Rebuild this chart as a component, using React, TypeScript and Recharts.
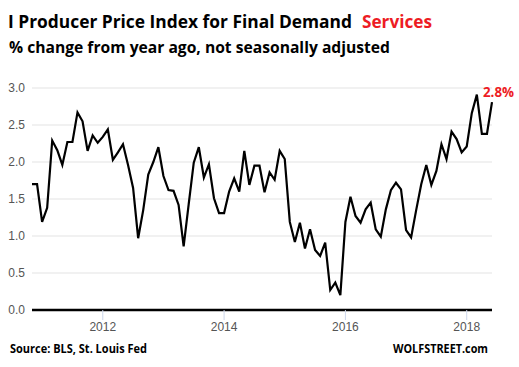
import { LineChart, Line, XAxis, YAxis, CartesianGrid, ReferenceLine } from 'recharts'

// monthly series, Nov 2010 .. Jun 2018
const startYear = 2010
const startMonth = 10 // 0-based, November
const ppiServices = [
  1.70, 1.70, 1.19, 1.38, 2.29, 2.16, 1.96, 2.27, 2.27, 2.67, 2.55, 2.15,
  2.36, 2.26, 2.34, 2.44, 2.03, 2.13, 2.24, 1.96, 1.65, 0.97, 1.35, 1.83,
  2.00, 2.20, 1.81, 1.62, 1.61, 1.42, 0.86, 1.43, 1.99, 2.20, 1.79, 1.97,
  1.51, 1.31, 1.31, 1.60, 1.78, 1.60, 2.15, 1.69, 1.95, 1.95, 1.59, 1.86,
  1.76, 2.15, 2.04, 1.19, 0.92, 1.18, 0.83, 1.09, 0.81, 0.73, 0.91, 0.27,
  0.37, 0.20, 1.19, 1.53, 1.27, 1.18, 1.36, 1.45, 1.09, 0.99, 1.36, 1.62,
  1.72, 1.63, 1.08, 0.98, 1.35, 1.70, 1.96, 1.69, 1.88, 2.24, 2.04, 2.41,
  2.31, 2.13, 2.21, 2.66, 2.91, 2.38, 2.38, 2.81,
]
const yearTicks = [2012, 2014, 2016, 2018]
const valueTicks = [0, 0.5, 1, 1.5, 2, 2.5, 3]
const lastLabel = '2.8%'

const RED = '#ed1c24'
const FONT = '"Open Sans", "Noto Sans", Arial, sans-serif'
const AXIS_FONT = '"Liberation Sans", Arial, sans-serif'

const data = ppiServices.map((v, i) => ({
  t: startYear + (startMonth + i) / 12,
  value: v,
}))

const LastLabel = (props: any) => {
  const { x, y, index } = props
  if (index !== data.length - 1) return null
  return (
    <text x={x - 9} y={y - 5} fill={RED} fontSize={13.5} fontWeight={700} fontFamily={FONT}
      textLength={31} lengthAdjust="spacingAndGlyphs">
      {lastLabel}
    </text>
  )
}

export default function App() {
  return (
    <div style={{ position: 'absolute', left: 0, top: 0, width: 519, height: 367, background: '#fff' }}>
      <LineChart
        width={519}
        height={367}
        data={data}
        margin={{ top: 88, right: 27, bottom: 27, left: 0 }}
      >
        <CartesianGrid vertical={false} stroke="#e3e3e3" />
        <XAxis
          dataKey="t"
          type="number"
          domain={[data[0].t, data[data.length - 1].t]}
          ticks={yearTicks}
          tickFormatter={(v) => String(v)}
          axisLine={false}
          tickLine={{ stroke: '#ccd6eb' }}
          tickSize={10}
          tickMargin={2}
          height={30}
          tick={{ fill: '#555', fontSize: 12, fontFamily: AXIS_FONT }}
        />
        <YAxis
          domain={[0, 3]}
          ticks={valueTicks}
          tickFormatter={(v) => v.toFixed(1)}
          axisLine={false}
          tickLine={false}
          tickSize={0}
          tickMargin={7}
          width={32}
          tick={{ fill: '#555', fontSize: 12, fontFamily: AXIS_FONT }}
        />
        <ReferenceLine y={0} stroke="#000" strokeWidth={2.5} />
        <Line
          type="linear"
          dataKey="value"
          stroke="#000"
          strokeWidth={2.2}
          dot={false}
          isAnimationActive={false}
          label={<LastLabel />}
        />
      </LineChart>
      <svg
        width={519}
        height={367}
        style={{ position: 'absolute', left: 0, top: 0, pointerEvents: 'none' }}
      >
        <text x={8} y={28} fontSize={17.3} fontWeight={700} fontFamily={FONT} fill="#000"
          textLength={344} lengthAdjust="spacingAndGlyphs">
          I Producer Price Index for Final Demand
        </text>
        <text x={362} y={28} fontSize={17.3} fontWeight={700} fontFamily={FONT} fill={RED}
          textLength={70} lengthAdjust="spacingAndGlyphs">
          Services
        </text>
        <text x={9} y={53} fontSize={15.6} fontWeight={700} fontFamily={FONT} fill="#000"
          textLength={381} lengthAdjust="spacingAndGlyphs">
          % change from year ago, not seasonally adjusted
        </text>
        <text x={10} y={353} fontSize={11.5} fontWeight={700} fontFamily={FONT} fill="#000"
          textLength={137} lengthAdjust="spacingAndGlyphs">
          Source: BLS, St. Louis Fed
        </text>
        <text x={393} y={353} fontSize={11.5} fontWeight={700} fontFamily={FONT} fill="#000"
          textLength={95} lengthAdjust="spacingAndGlyphs">
          WOLFSTREET.com
        </text>
      </svg>
    </div>
  )
}
